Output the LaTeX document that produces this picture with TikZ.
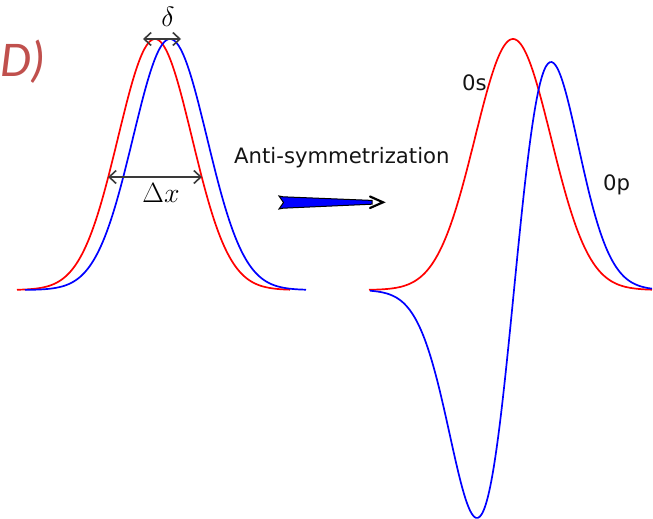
\documentclass[tikz,border=0pt]{standalone}
\usepackage{fontspec}
\newfontfamily\dejavu{DejaVu Sans}
\newfontfamily\carlito{Carlito}
\usetikzlibrary{arrows.meta}
\definecolor{labelred}{HTML}{C0504D}
\definecolor{arrgray}{HTML}{3A3A3A}
\tikzset{
  curvered/.style={draw=red, line width=1.7pt, line join=round},
  curveblue/.style={draw=blue, line width=1.7pt, line join=round},
  dimarrow/.style={draw=arrgray, line width=1.6pt, {Straight Barb[length=7pt,width=13pt,line width=1.6pt]}-{Straight Barb[length=7pt,width=13pt,line width=1.6pt]}},
  sanslabel/.style={font=\dejavu\fontsize{21.2}{24}\selectfont, text=black!92, inner sep=0pt},
  mathlabel/.style={font=\fontsize{24.88}{28}\selectfont, inner sep=0pt, scale=1.12}
}
\begin{document}
\begin{tikzpicture}[x=1pt,y=-1pt]
\useasboundingbox (0,0) rectangle (653,519);
\clip (0,0) rectangle (653,519);
\fill[white] (0,0) rectangle (653,519);

% panel label
\node[font=\carlito\itshape\fontsize{50}{56}\selectfont, text=labelred, inner sep=0pt, anchor=base west] (lab) at (0,77) {D)};

% left: two shifted gaussians
\draw[curvered] plot[domain=17:290, samples=140, smooth] (\x, {290-251*exp(-0.5*((\x-155)/37)^2)});
\draw[curveblue] plot[domain=25:306, samples=140, smooth] (\x, {290-251*exp(-0.5*((\x-170)/37)^2)});

% dimension arrows
\coordinate (dl) at (143,39);
\coordinate (dr) at (181,39);
\draw[dimarrow] (dl) -- (dr);
\node[mathlabel, anchor=base] (delta) at (168,27) {$\delta$};

\coordinate (xl) at (108,177);
\coordinate (xr) at (202,177);
\draw[dimarrow] (xl) -- (xr);
\node[mathlabel, anchor=base] (dx) at (161,202) {$\Delta x$};

% transformation label and arrow
\node[sanslabel, anchor=base west] (anti) at (234,163) {Anti-symmetrization};
\coordinate (ahead) at (383,202.3);
\filldraw[fill=blue, draw=black, line width=1pt, line join=miter]
  (279,196) -- (283,196.8) -- (372,200.4) -- (372,204.2) -- (283,208.2) -- (279,209) -- (283.5,202.5) -- cycle;
\draw[black, line width=2.2pt, line join=miter, line cap=round] (370,196.5) -- (ahead) -- (370,208);

% right: symmetric (0s) and antisymmetric (0p) combinations
\draw[curvered] plot[domain=369:652, samples=150, smooth] (\x, {290-251*exp(-0.5*((\x-513)/38)^2)});
\draw[curveblue] plot[domain=370:652, samples=150, smooth] (\x, {290-228*((\x-514)/37)*exp(0.5*(1-((\x-514)/37)^2))});

\node[sanslabel, anchor=base west] (zs) at (462,90) {0s};
\node[sanslabel, anchor=base west] (zp) at (603,190) {0p};
\end{tikzpicture}
\end{document}
